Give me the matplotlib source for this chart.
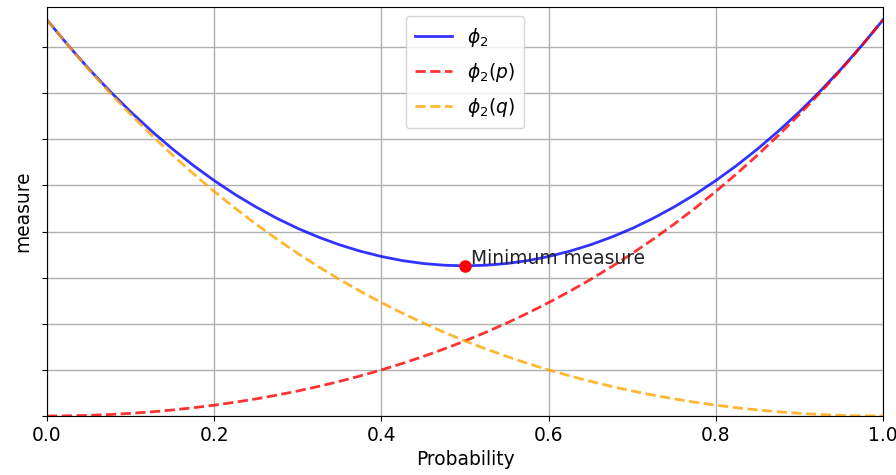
import numpy as np
import matplotlib
matplotlib.use("Agg")
import matplotlib.pyplot as plt

# values (y in units of one gridline step)
prob = [0.000, 0.025, 0.050, 0.075, 0.100, 0.125, 0.150, 0.175, 0.200, 0.225,
        0.250, 0.275, 0.300, 0.325, 0.350, 0.375, 0.400, 0.425, 0.450, 0.475,
        0.500, 0.525, 0.550, 0.575, 0.600, 0.625, 0.650, 0.675, 0.700, 0.725,
        0.750, 0.775, 0.800, 0.825, 0.850, 0.875, 0.900, 0.925, 0.950, 0.975, 1.000]
phi_p = [0.000, 0.004, 0.014, 0.032, 0.058, 0.090, 0.131, 0.179, 0.235, 0.299,
         0.372, 0.453, 0.543, 0.643, 0.752, 0.871, 1.000, 1.140, 1.291, 1.454,
         1.628, 1.816, 2.016, 2.230, 2.459, 2.702, 2.960, 3.234, 3.525, 3.834,
         4.160, 4.505, 4.870, 5.255, 5.661, 6.090, 6.540, 7.015, 7.514, 8.039, 8.590]
phi_q = [8.590, 8.039, 7.514, 7.015, 6.540, 6.090, 5.661, 5.255, 4.870, 4.505,
         4.160, 3.834, 3.525, 3.234, 2.960, 2.702, 2.459, 2.230, 2.016, 1.816,
         1.628, 1.454, 1.291, 1.140, 1.000, 0.871, 0.752, 0.643, 0.543, 0.453,
         0.372, 0.299, 0.235, 0.179, 0.131, 0.090, 0.058, 0.032, 0.014, 0.004, 0.000]
phi_total = [8.590, 8.043, 7.528, 7.047, 6.598, 6.180, 5.792, 5.434, 5.105, 4.804,
             4.532, 4.287, 4.068, 3.877, 3.712, 3.573, 3.459, 3.370, 3.307, 3.270,
             3.256, 3.270, 3.307, 3.370, 3.459, 3.573, 3.712, 3.877, 4.068, 4.287,
             4.532, 4.804, 5.105, 5.434, 5.792, 6.180, 6.598, 7.047, 7.528, 8.043, 8.590]
x_ticks = [0.0, 0.2, 0.4, 0.6, 0.8, 1.0]

fs = 13.4

fig, ax = plt.subplots(figsize=(8.96, 4.75), dpi=100)
fig.subplots_adjust(left=0.0525, right=0.9855, bottom=0.1242, top=0.9853)

ax.plot(prob, phi_total, color='blue', alpha=0.8, linewidth=2, label=r'$\phi_2$')
ax.plot(prob, phi_p, color='red', alpha=0.8, linewidth=2, linestyle='--', label=r'$\phi_2(p)$')
ax.plot(prob, phi_q, color='orange', alpha=0.8, linewidth=2, linestyle='--', label=r'$\phi_2(q)$')

# mark the minimum
i_min = int(np.argmin(phi_total))
ax.plot(prob[i_min], phi_total[i_min], 'o', color='red', markersize=8)
ax.annotate('Minimum measure', (prob[i_min], phi_total[i_min]),
            xytext=(4, 1), textcoords='offset points', fontsize=fs, color='#222222')

ax.set_xlim(0, 1)
ax.set_ylim(0, 8.87)
ax.set_xticks(x_ticks)
ax.set_yticks(range(9))
ax.set_yticklabels([])
ax.tick_params(labelsize=fs)
ax.set_xlabel('Probability', fontsize=fs)
ax.set_ylabel('measure', fontsize=fs)
ax.grid(True, linewidth=1)
ax.legend(loc='upper center', fontsize=fs, labelspacing=0.65, borderpad=0.5)

fig.savefig('out.png')
